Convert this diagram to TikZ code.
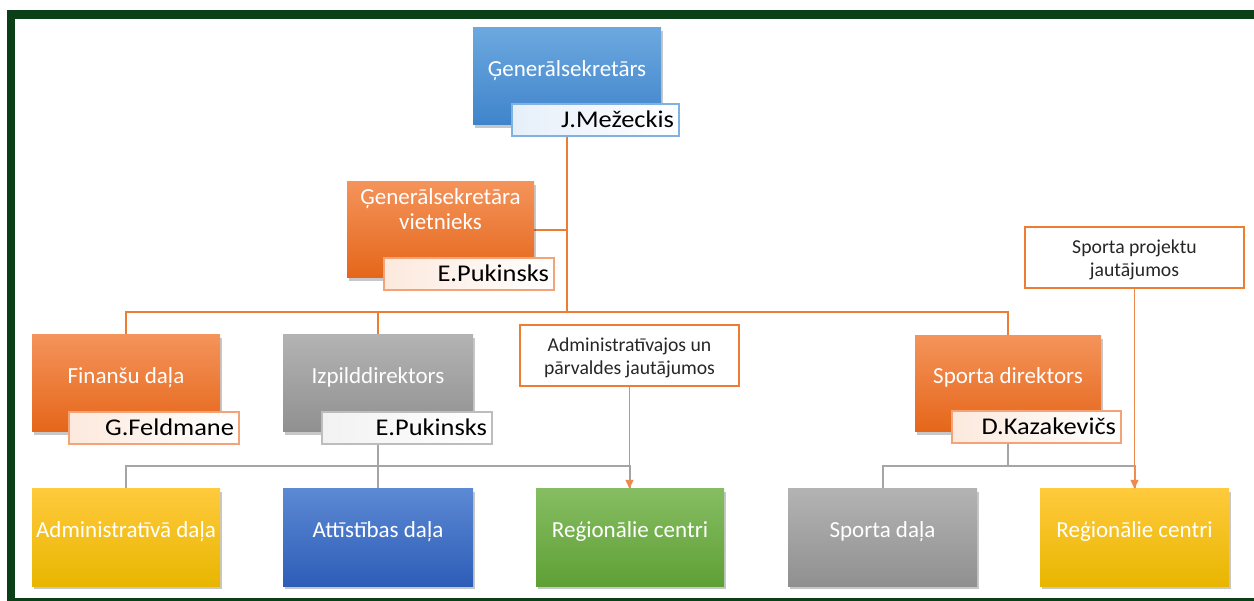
\documentclass[tikz,border=0pt]{standalone}
\usepackage{fontspec}
\setmainfont{Carlito}
\newfontfamily\labelfont[FakeStretch=1.1]{Carlito}
\usetikzlibrary{shadows,arrows.meta,backgrounds,calc}

\definecolor{frameG}{HTML}{0B3F17}
\definecolor{blueT}{HTML}{6CA8DF}
\definecolor{blueB}{HTML}{3F84CB}
\definecolor{orT}{HTML}{F4935A}
\definecolor{orB}{HTML}{E5661A}
\definecolor{grT}{HTML}{B3B3B3}
\definecolor{grB}{HTML}{909090}
\definecolor{yeT}{HTML}{FFCA3C}
\definecolor{yeB}{HTML}{E8B600}
\definecolor{dbT}{HTML}{5C89D3}
\definecolor{dbB}{HTML}{2D5DB8}
\definecolor{gnT}{HTML}{86BD62}
\definecolor{gnB}{HTML}{5FA036}
\definecolor{orLine}{HTML}{ED7D31}
\definecolor{orArrow}{HTML}{EF8A4E}
\definecolor{grLine}{HTML}{A5A5A5}
\definecolor{blueEdge}{HTML}{7FB2E2}
\definecolor{orEdge}{HTML}{F4A377}
\definecolor{grEdge}{HTML}{BDBDBD}
\definecolor{blueTint}{HTML}{E6EFF9}
\definecolor{orTint}{HTML}{FCE9DD}
\definecolor{grTint}{HTML}{F2F2F2}
\definecolor{noteText}{HTML}{262626}

\begin{document}
\begin{tikzpicture}[x=1pt,y=-1pt,
  orgbox/.style={rectangle, inner sep=0pt, minimum width=188pt, minimum height=97pt,
    drop shadow={shadow xshift=2pt, shadow yshift=-3pt, opacity=0.22, fill=black}},
  fillblue/.style={top color=blueT, bottom color=blueB},
  fillor/.style={top color=orT, bottom color=orB},
  fillgr/.style={top color=grT, bottom color=grB},
  fillye/.style={top color=yeT, bottom color=yeB},
  filldb/.style={top color=dbT, bottom color=dbB},
  fillgn/.style={top color=gnT, bottom color=gnB},
  boxtext/.style={inner sep=0pt, text=white, align=center,
    font=\fontsize{23}{25}\selectfont, text height=16pt, text depth=5pt},
  namebox/.style={rectangle, inner xsep=5pt, inner ysep=0pt, minimum height=32pt,
    align=right, text=black, line width=1.2pt, right color=white,
    font=\labelfont\fontsize{24}{26}\selectfont, text height=15pt, text depth=0pt},
  note/.style={rectangle, draw=orLine, line width=2pt, fill=white, minimum width=219pt,
    minimum height=61pt, align=center, text=noteText, inner sep=0pt,
    font=\fontsize{19.7}{23}\selectfont},
  oline/.style={draw=orLine, line width=2pt},
  gline/.style={draw=grLine, line width=2pt},
  aline/.style={draw=orArrow, line width=1.3pt, -{Triangle[length=9pt,width=8pt]}}
]
\useasboundingbox (0,0) rectangle (1254,601);
\begin{scope}[on background layer]
  \fill[white] (0,0) rectangle (1254,601);
\end{scope}

% frame
\fill[frameG] (7,10) rectangle (1254,19);
\fill[frameG] (7,10) rectangle (15,601);
\fill[frameG] (7,598) rectangle (1254,601);

% boxes
\node[orgbox, fillblue] (gs) at (567,76.5) {};
\node[boxtext] (gs-t) at ([yshift=5.5pt]gs.center) {Ģenerālsekretārs};
\node[orgbox, fillor, minimum width=187pt, minimum height=96pt] (vs) at (440.5,230) {};
\node[boxtext] (vs-t) at ([yshift=5.5pt]vs.center) {Ģenerālsekretāra\\vietnieks};
\node[orgbox, fillor] (fin) at (126,383.5) {};
\node[boxtext] (fin-t) at ([yshift=5.5pt]fin.center) {Finanšu daļa};
\node[orgbox, fillgr, minimum width=190pt] (izp) at (378,383.5) {};
\node[boxtext] (izp-t) at ([yshift=5.5pt]izp.center) {Izpilddirektors};
\node[orgbox, fillor, minimum width=186pt, minimum height=96pt] (sd) at (1008,384) {};
\node[boxtext] (sd-t) at ([yshift=5.5pt]sd.center) {Sporta direktors};

\node[orgbox, fillye] (adm) at (126,537.5) {};
\node[boxtext] (adm-t) at ([yshift=5.5pt]adm.center) {Administratīvā daļa};
\node[orgbox, filldb, minimum width=190pt] (att) at (378,537.5) {};
\node[boxtext] (att-t) at ([yshift=5.5pt]att.center) {Attīstības daļa};
\node[orgbox, fillgn] (reg1) at (630,537.5) {};
\node[boxtext] (reg1-t) at ([yshift=5.5pt]reg1.center) {Reģionālie centri};
\node[orgbox, fillgr, minimum width=189pt] (spd) at (882.5,537.5) {};
\node[boxtext] (spd-t) at ([yshift=5.5pt]spd.center) {Sporta daļa};
\node[orgbox, fillye, minimum width=189pt] (reg2) at (1134.5,537.5) {};
\node[boxtext] (reg2-t) at ([yshift=5.5pt]reg2.center) {Reģionālie centri};

% name labels
\node[namebox, draw=blueEdge, left color=blueTint, minimum width=167pt, text width=157pt] (jm) at (595.5,120) {J.Mežeckis};
\node[namebox, draw=orEdge, left color=orTint, minimum width=170pt, text width=160pt] (ep1) at (469,274) {E.Pukinsks};
\node[namebox, draw=orEdge, left color=orTint, minimum width=170pt, text width=160pt] (gf) at (154,428) {G.Feldmane};
\node[namebox, draw=grEdge, left color=grTint, minimum width=170pt, text width=160pt] (ep2) at (407,428) {E.Pukinsks};
\node[namebox, draw=orEdge, left color=orTint, minimum width=169pt, text width=159pt] (dk) at (1036.5,427) {D.Kazakevičs};

% notes
\node[note] (na) at (629.5,355.5) {\rule{0pt}{19pt}Administratīvajos un\\pārvaldes jautājumos};
\node[note] (np) at (1134.5,257.5) {\rule{0pt}{19pt}Sporta projektu\\jautājumos};

% connectors
\coordinate (bus) at (567,312);
\coordinate (gbus) at (378,466);
\coordinate (sbus) at (1008,466);
\begin{scope}[on background layer]
  \draw[oline] (gs.south) -- (bus);
  \draw[oline] (vs.east) -- (vs.east -| gs.south);
  \draw[oline] (fin.north) |- (bus) -| (sd.north);
  \draw[oline] (izp.north) -- (izp.north |- bus);
  \draw[gline] (izp.south) -- (att.north);
  \draw[gline] (adm.north) |- (gbus) -| (reg1.north);
  \draw[gline] (sd.south) -- (sbus);
  \draw[gline] (spd.north) |- (sbus) -| (reg2.north);
\end{scope}
\draw[aline] (na.south) -- (na.south |- reg1.north);
\draw[aline] (np.south) -- (np.south |- reg2.north);
\end{tikzpicture}
\end{document}
